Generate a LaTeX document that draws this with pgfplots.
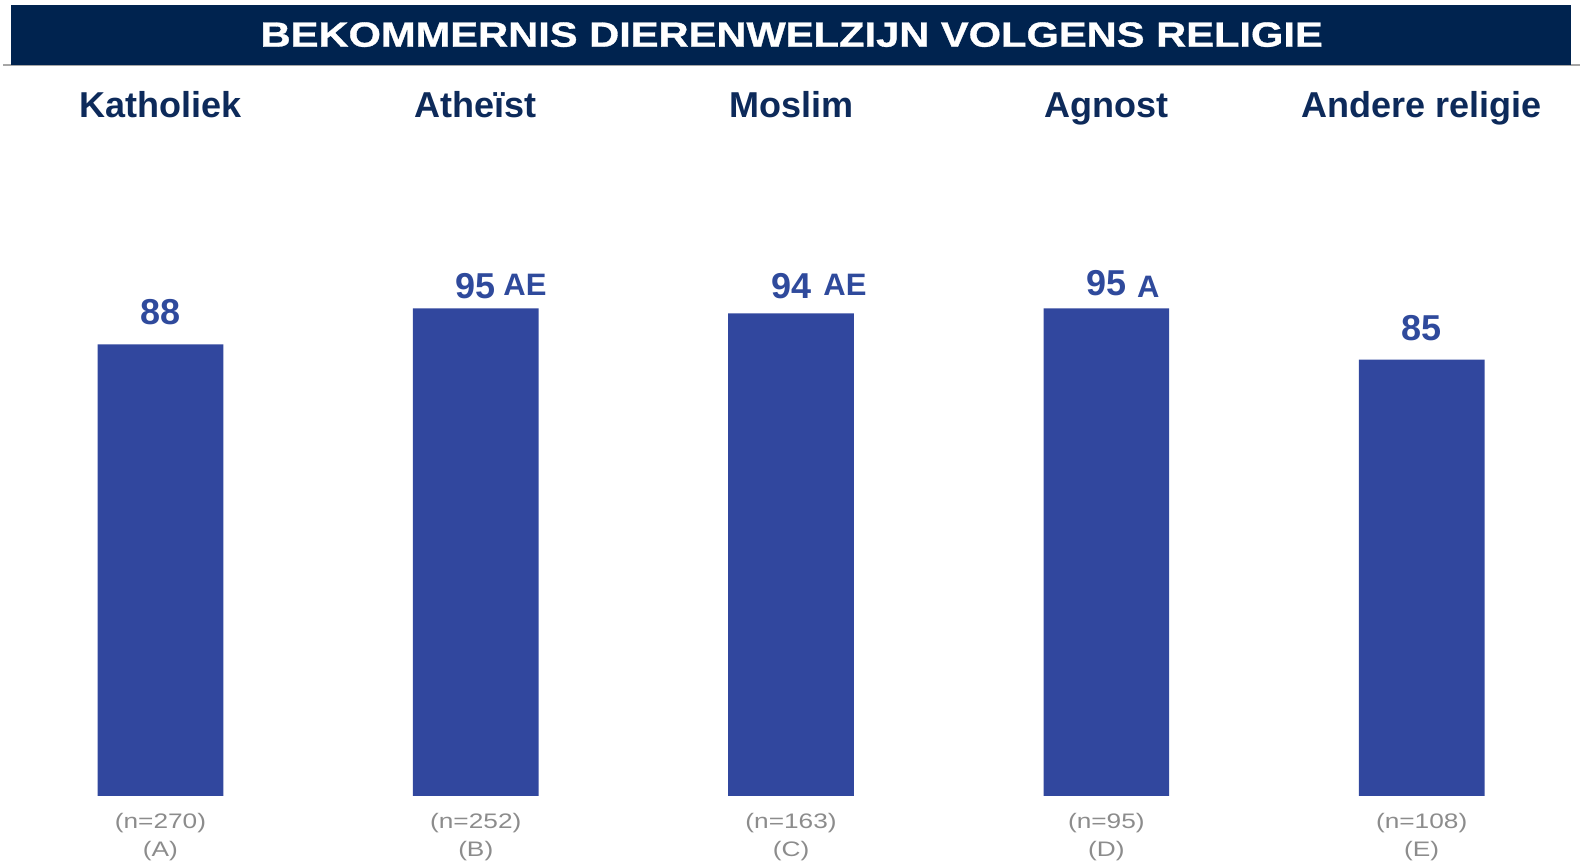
\documentclass[border=0pt]{standalone}
\usepackage{pgfplots}
\pgfplotsset{compat=1.18}
\usepackage{fontspec}
\setmainfont{Liberation Sans}
\newfontfamily\titlefont[FakeBold=0.8]{Liberation Sans Bold}

\definecolor{titlebg}{HTML}{00234F}
\definecolor{headblue}{HTML}{0D2A5A}
\definecolor{barblue}{HTML}{31479E}
\definecolor{valblue}{HTML}{2F4A9C}
\definecolor{ngray}{HTML}{8C8C8C}

\newcommand{\valfont}{\fontsize{18}{21.6}\selectfont\bfseries}
\newcommand{\sigfont}{\fontsize{15.5}{18.6}\selectfont\bfseries}
\newcommand{\headfont}{\fontsize{18}{21.6}\selectfont\bfseries}
\newcommand{\ntext}[1]{\scalebox{1.25}[1]{\fontsize{10.5}{12.6}\selectfont #1}}

\begin{document}
\begin{tikzpicture}
\path[use as bounding box] (0,0) rectangle (793pt,433pt);

% titelbalk
\fill[black!35] (1.5pt,400pt) rectangle (790pt,401pt);
\fill[titlebg] (5.35pt,400.5pt) rectangle (785.35pt,430.5pt);
\node[anchor=base, text=white, inner sep=0pt] at (395.85pt,409.65pt)
  {\scalebox{1.19}[1]{\fontsize{17.5}{21}\titlefont BEKOMMERNIS DIERENWELZIJN VOLGENS RELIGIE}};

\begin{axis}[
    at={(1.4pt,35pt)},
    anchor=south west,
    scale only axis,
    width=788.25pt,
    height=256.65pt,
    xmin=-0.5, xmax=4.5,
    ymin=0, ymax=100,
    hide axis,
    clip=false,
    ybar,
    bar width=62.85pt,
]

\addplot[fill=barblue, draw=none] coordinates {
    (0,88) (1,95) (2,94) (3,95) (4,85)
};

% waarden
\node[anchor=base, text=valblue, inner sep=0pt, yshift=9.65pt] at (axis cs:0,88) {\valfont 88};
\node[anchor=base, text=valblue, inner sep=0pt, yshift=5pt] at (axis cs:1,95) {\valfont 95};
\node[anchor=base, text=valblue, inner sep=0pt, yshift=7.5pt] at (axis cs:2,94) {\valfont 94};
\node[anchor=base, text=valblue, inner sep=0pt, yshift=6.5pt] at (axis cs:3,95) {\valfont 95};
\node[anchor=base, text=valblue, inner sep=0pt, yshift=9.5pt] at (axis cs:4,85) {\valfont 85};

% significantie
\node[anchor=base west, text=valblue, inner sep=0pt, xshift=13.65pt, yshift=6.6pt] at (axis cs:1,95) {\sigfont AE};
\node[anchor=base west, text=valblue, inner sep=0pt, xshift=16pt, yshift=9.1pt] at (axis cs:2,94) {\sigfont AE};
\node[anchor=base west, text=valblue, inner sep=0pt, xshift=15.2pt, yshift=5.4pt] at (axis cs:3,95) {\sigfont A};

% koppen
\node[anchor=base, text=headblue, inner sep=0pt, yshift=339.2pt] at (axis cs:0,0) {\headfont Katholiek};
\node[anchor=base, text=headblue, inner sep=0pt, yshift=339.2pt] at (axis cs:1,0) {\headfont Atheïst};
\node[anchor=base, text=headblue, inner sep=0pt, yshift=339.2pt] at (axis cs:2,0) {\headfont Moslim};
\node[anchor=base, text=headblue, inner sep=0pt, yshift=339.2pt] at (axis cs:3,0) {\headfont Agnost};
\node[anchor=base, text=headblue, inner sep=0pt, yshift=339.2pt] at (axis cs:4,0) {\headfont Andere religie};

% aantallen
\node[anchor=base, text=ngray, inner sep=0pt, yshift=-16.15pt] at (axis cs:0,0) {\ntext{(n=270)}};
\node[anchor=base, text=ngray, inner sep=0pt, yshift=-16.15pt] at (axis cs:1,0) {\ntext{(n=252)}};
\node[anchor=base, text=ngray, inner sep=0pt, yshift=-16.15pt] at (axis cs:2,0) {\ntext{(n=163)}};
\node[anchor=base, text=ngray, inner sep=0pt, yshift=-16.15pt] at (axis cs:3,0) {\ntext{(n=95)}};
\node[anchor=base, text=ngray, inner sep=0pt, yshift=-16.15pt] at (axis cs:4,0) {\ntext{(n=108)}};
\node[anchor=base, text=ngray, inner sep=0pt, yshift=-30.35pt] at (axis cs:0,0) {\ntext{(A)}};
\node[anchor=base, text=ngray, inner sep=0pt, yshift=-30.35pt] at (axis cs:1,0) {\ntext{(B)}};
\node[anchor=base, text=ngray, inner sep=0pt, yshift=-30.35pt] at (axis cs:2,0) {\ntext{(C)}};
\node[anchor=base, text=ngray, inner sep=0pt, yshift=-30.35pt] at (axis cs:3,0) {\ntext{(D)}};
\node[anchor=base, text=ngray, inner sep=0pt, yshift=-30.35pt] at (axis cs:4,0) {\ntext{(E)}};

\end{axis}
\end{tikzpicture}
\end{document}
